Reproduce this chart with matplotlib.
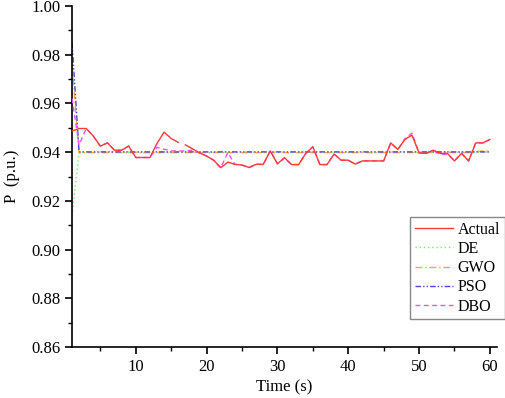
import numpy as np
import matplotlib
matplotlib.use('Agg')
import matplotlib.pyplot as plt
from matplotlib.ticker import MultipleLocator, FormatStrFormatter

plt.rcParams['font.family'] = ['Liberation Serif', 'DejaVu Serif']

# Time axis (s)
time = np.arange(1, 61)

actual = [0.9487, 0.9497, 0.9497, 0.9466, 0.9425, 0.9438, 0.9408, 0.9408, 0.9425, 0.9378,
          0.9378, 0.9378, 0.9436, 0.9482, 0.9456, 0.9440, 0.9430, 0.9414, 0.9397, 0.9384,
          0.9367, 0.9336, 0.9359, 0.9350, 0.9347, 0.9337, 0.9350, 0.9350, 0.9405, 0.9352,
          0.9377, 0.9349, 0.9349, 0.9395, 0.9422, 0.9349, 0.9349, 0.9392, 0.9367, 0.9367,
          0.9351, 0.9364, 0.9364, 0.9364, 0.9364, 0.9438, 0.9411, 0.9452, 0.9470, 0.9397,
          0.9395, 0.9408, 0.9395, 0.9395, 0.9364, 0.9395, 0.9364, 0.9438, 0.9438, 0.9452]

de = [0.9140] + [0.9400] * 59
gwo = [0.9760] + [0.9398] * 56 + [0.9402, 0.9405, 0.9405]
pso = [0.9850] + [0.9401] * 59

dbo = [0.9620, 0.9430, 0.9497, 0.9466, 0.9425, 0.9438, 0.9408, 0.9408, 0.9425, 0.9378,
       0.9378, 0.9378, 0.9420, 0.9412, 0.9405, 0.9405, 0.9405, 0.9408, 0.9397, 0.9384,
       0.9367, 0.9336, 0.9398, 0.9350, 0.9347, 0.9337, 0.9350, 0.9350, 0.9405, 0.9352,
       0.9377, 0.9349, 0.9349, 0.9395, 0.9422, 0.9349, 0.9349, 0.9392, 0.9367, 0.9367,
       0.9351, 0.9364, 0.9364, 0.9364, 0.9364, 0.9438, 0.9411, 0.9455, 0.9478, 0.9397,
       0.9395, 0.9408, 0.9390, 0.9392, 0.9364, 0.9395, 0.9364, 0.9438, 0.9438, 0.9452]

# the recorded 'Actual' curve has a break between t=16 and t=17
gap = 16

fig = plt.figure(figsize=(5.05, 3.98), dpi=100)
ax = fig.add_axes([0.1426, 0.128, 0.8415, 0.857])

ax.plot(time[:gap], actual[:gap], color='#ff3838', lw=1.0, label='Actual', zorder=5)
ax.plot(time[gap:], actual[gap:], color='#ff3838', lw=1.0, zorder=5)
ax.plot(time, de, color='#70ee70', lw=1.0, ls=(0, (1, 2)), label='DE')
ax.plot(time, gwo, color='#ffa848', lw=1.0, ls=(0, (5, 2, 1, 2)), label='GWO')
ax.plot(time, pso, color='#4848c8', lw=1.0, ls=(0, (4, 1.5, 1, 1.5, 1, 1.5)), label='PSO')
ax.plot(time, dbo, color='#f050f0', lw=1.0, ls=(0, (3.5, 2.5)), label='DBO', zorder=4)

ax.set_xlim(1, 61)
ax.set_ylim(0.86, 1.00)
ax.xaxis.set_major_locator(MultipleLocator(10))
ax.xaxis.set_minor_locator(MultipleLocator(5))
ax.yaxis.set_major_locator(MultipleLocator(0.02))
ax.yaxis.set_minor_locator(MultipleLocator(0.01))
ax.yaxis.set_major_formatter(FormatStrFormatter('%.2f'))

for side in ('top', 'right'):
    ax.spines[side].set_visible(False)
for side in ('left', 'bottom'):
    ax.spines[side].set_linewidth(1.2)
ax.tick_params(which='major', direction='out', length=5, width=1.2, labelsize=12)
ax.tick_params(which='minor', direction='out', length=3, width=1.0)

ax.set_xlabel('Time (s)', fontsize=12, labelpad=3)
ax.set_ylabel('P  (p.u.)', fontsize=12, labelpad=8)

leg = ax.legend(loc='upper right', bbox_to_anchor=(1.019, 0.381), fontsize=11.5,
                frameon=True, fancybox=False, edgecolor='#888888', framealpha=1,
                handlelength=2.4, handletextpad=0.3, borderpad=0.3,
                labelspacing=0.2, borderaxespad=0)
leg.get_frame().set_linewidth(1.0)

fig.savefig('out.png', dpi=100)
